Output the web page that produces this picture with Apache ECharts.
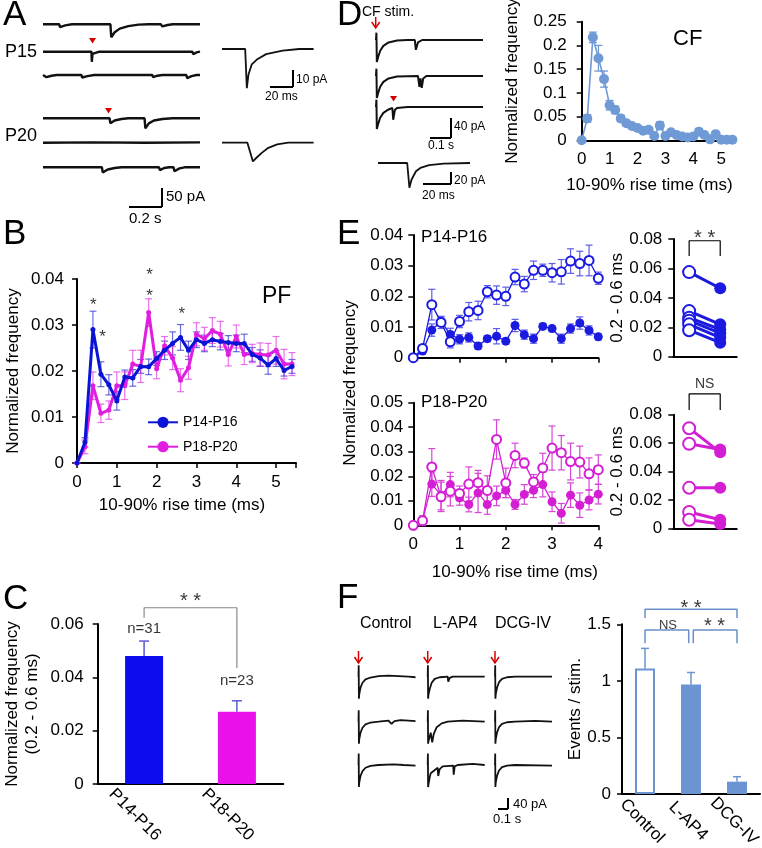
<!DOCTYPE html>
<html><head><meta charset="utf-8">
<script src="https://cdn.jsdelivr.net/npm/echarts@6/dist/echarts.min.js"></script>
<style>html,body{margin:0;padding:0;background:#fff}#c{width:762px;height:848px}</style>
</head><body><div id="c"></div>
<script>
// ================= DATA =================
// Panel B (PF rise-time distributions)
const riseB = [0,0.2,0.4,0.6,0.8,1,1.2,1.4,1.6,1.8,2,2.2,2.4,2.6,2.8,3,3.2,3.4,3.6,3.8,4,4.2,4.4,4.6,4.8,5,5.2,5.4];
const pfP14 = [0,0.0045,0.029,0.0193,0.017,0.0135,0.0187,0.0185,0.021,0.0209,0.0227,0.0245,0.026,0.0273,0.0245,0.0268,0.026,0.0268,0.0264,0.0262,0.026,0.026,0.0236,0.0228,0.0213,0.0227,0.0201,0.021];
const pfP14Err = [0,0.001,0.004,0.0027,0.0022,0.002,0.0015,0.0018,0.0015,0.0017,0.0015,0.002,0.0025,0.0028,0.002,0.0017,0.0018,0.0015,0.0018,0.0015,0.0018,0.002,0.0015,0.0018,0.002,0.0017,0.0012,0.0015];
const pfP18 = [0,0.0035,0.0168,0.0108,0.0115,0.0168,0.0168,0.0215,0.021,0.0327,0.0205,0.0255,0.0228,0.018,0.0207,0.028,0.027,0.0288,0.028,0.0236,0.0275,0.0236,0.0238,0.0236,0.0235,0.0245,0.0215,0.0215];
const pfP18Err = [0,0.0015,0.003,0.002,0.002,0.003,0.003,0.003,0.0035,0.003,0.0022,0.002,0.0025,0.0025,0.0025,0.0025,0.0025,0.0028,0.0028,0.0025,0.0025,0.0022,0.002,0.0025,0.0025,0.003,0.0032,0.0025];
const starsB = [[0.41,0.0352],[0.64,0.0283],[1.82,0.0416],[1.82,0.037],[2.63,0.0333]];

// Panel C
const groupsC = ['P14-P16','P18-P20'];
const freqC = [0.048,0.0271];
const freqCErr = [0.0056,0.0041];
const nLabelsC = ['n=31','n=23'];

// Panel D (CF)
const cfFreq = [0,0.046,0.217,0.173,0.129,0.074,0.064,0.046,0.036,0.03,0.026,0.02,0.022,0.009,0.031,0.009,0.017,0.011,0.008,0.006,0.008,0.018,0.011,0.002,0.013,0.001,0.001,0.001];
const cfErr = [0,0.008,0.011,0.027,0.017,0.01,0.008,0.007,0.006,0.004,0.004,0.004,0.004,0.003,0.008,0.003,0.004,0.003,0.003,0.003,0.003,0.007,0.003,0.002,0.003,0.002,0.002,0.002];

// Panel E
const riseE = [0,0.2,0.4,0.6,0.8,1,1.2,1.4,1.6,1.8,2,2.2,2.4,2.6,2.8,3,3.2,3.4,3.6,3.8,4];
const eP14Open = [0,0.003,0.0173,0.0115,0.0052,0.0118,0.015,0.0154,0.0215,0.0204,0.02,0.0263,0.024,0.0285,0.0285,0.0277,0.028,0.0315,0.0307,0.0317,0.0259];
const eP14OpenErr = [0,0.001,0.005,0.002,0.002,0.002,0.003,0.003,0.002,0.003,0.003,0.0025,0.0025,0.003,0.002,0.003,0.004,0.004,0.004,0.005,0.002];
const eP14Filled = [0,0.0022,0.009,0.0118,0.0076,0.006,0.0066,0.0038,0.0062,0.007,0.0054,0.0105,0.0075,0.0062,0.0102,0.0095,0.0062,0.0095,0.0113,0.0089,0.0068];
const eP14FilledErr = [0,0.001,0.002,0.0015,0.002,0.0015,0.0015,0.001,0.001,0.0025,0.001,0.002,0.0015,0.0015,0.001,0.001,0.0015,0.0015,0.002,0.0015,0.001];
const eP18Open = [0,0.0019,0.0238,0.0116,0.0139,0.013,0.0168,0.0174,0.0142,0.035,0.0173,0.0285,0.0254,0.0177,0.0234,0.0315,0.0296,0.026,0.0258,0.021,0.0227];
const eP18OpenErr = [0,0.001,0.0075,0.006,0.006,0.003,0.007,0.005,0.006,0.008,0.006,0.005,0.002,0.003,0.006,0.009,0.007,0.0075,0.0065,0.0065,0.006];
const eP18Filled = [0,0.0019,0.0168,0.0123,0.0166,0.0112,0.0085,0.0132,0.0085,0.012,0.0143,0.0085,0.0126,0.0143,0.0166,0.0096,0.0049,0.0123,0.0082,0.0103,0.0127];
const eP18FilledErr = [0,0.002,0.005,0.006,0.005,0.003,0.003,0.008,0.004,0.004,0.003,0.002,0.004,0.003,0.005,0.004,0.004,0.005,0.005,0.004,0.004];
const pairP14Open = [0.0575,0.031,0.0265,0.0245,0.022,0.018];
const pairP14Filled = [0.0465,0.022,0.0185,0.016,0.013,0.0095];
const pairP18Open = [0.0705,0.0595,0.0285,0.0115,0.006];
const pairP18Filled = [0.0535,0.0555,0.0285,0.006,0.003];

// Panel F
const drugsF = ['Control','L-AP4','DCG-IV'];
const eventsF = [1.11,0.968,0.109];
const eventsFErr = [0.177,0.106,0.044];

// Example traces: [time, current(pA)]
const traceA15 = [
 [[0,0],[0.095,0],[0.1,-8],[0.13,-3],[0.17,0],[0.395,0],[0.4,-36],[0.42,-22],[0.45,-12],[0.5,-5],[0.56,-1],[0.62,0],[0.69,0],[0.7,-6],[0.73,-2],[0.76,0],[0.92,0]],
 [[0,0],[0.284,0],[0.286,-28],[0.29,-6],[0.3,-2],[0.33,0],[0.875,0],[0.88,-7],[0.9,-2],[0.92,0]],
 [[0,0],[0.02,-6],[0.05,-2],[0.08,0],[0.225,0],[0.23,-7],[0.26,-3],[0.3,0],[0.64,0],[0.645,-6],[0.67,-2],[0.7,0],[0.84,0],[0.845,-9],[0.87,-3],[0.9,0],[0.92,0]]
];
const traceA20 = [
 [[0,0],[0.39,0],[0.395,-14],[0.42,-6],[0.46,-2],[0.5,0],[0.595,0],[0.6,-28],[0.62,-14],[0.65,-6],[0.7,-2],[0.76,0],[0.92,0]],
 [[0,0],[0.3,1],[0.6,0],[0.92,1]],
 [[0,0],[0.345,0],[0.35,-14],[0.38,-6],[0.42,-2],[0.46,0],[0.68,0],[0.685,-8],[0.71,-2],[0.74,0],[0.765,0],[0.77,-11],[0.8,-3],[0.83,0],[0.92,0]]
];
const traceAZoom15 = [[0,0],[21,0],[22.5,-23],[24,-15],[27,-9],[32,-6],[40,-3],[55,-1],[70,0],[83,0]];
const traceAZoom20 = [[0,0],[23,0],[28,-11],[31,-9],[36,-6],[42,-3],[50,-1],[60,0],[83,0]];
const traceD = [
 [[0,0],[0.002,15],[0.004,-45],[0.01,-35],[0.02,-22],[0.035,-12],[0.06,-5],[0.1,-1],[0.15,0],[0.185,0],[0.19,-20],[0.2,-5],[0.22,0],[0.51,0]],
 [[0,0],[0.002,15],[0.004,-45],[0.01,-35],[0.02,-22],[0.035,-12],[0.06,-5],[0.1,-1],[0.2,0],[0.207,-22],[0.212,-5],[0.218,-24],[0.225,-5],[0.24,0],[0.51,0]],
 [[0,0],[0.002,15],[0.004,-45],[0.01,-35],[0.02,-22],[0.035,-12],[0.06,-5],[0.078,-2],[0.082,-26],[0.09,-6],[0.1,-2],[0.15,0],[0.51,0]]
];
const traceDZoom = [[0,0],[20,0],[21.5,-45],[23,-30],[26,-15],[29,-9],[35,-4],[45,-1],[63,0]];
const traceFControl = [
 [[0,0],[0.002,42],[0.004,-80],[0.008,-62],[0.02,-40],[0.04,-22],[0.07,-10],[0.12,-3],[0.2,2],[0.3,4],[0.4,2],[0.5,0],[0.57,-2]],
 [[0,0],[0.002,42],[0.004,-80],[0.008,-62],[0.02,-40],[0.04,-22],[0.07,-10],[0.12,-3],[0.2,0],[0.3,4],[0.33,-8],[0.36,2],[0.42,6],[0.5,4],[0.57,2]],
 [[0,0],[0.002,42],[0.004,-80],[0.008,-62],[0.02,-40],[0.04,-22],[0.07,-10],[0.12,-3],[0.2,0],[0.35,2],[0.45,0],[0.57,-2]]
];
const traceFLAP4 = [
 [[0,0],[0.002,42],[0.004,-80],[0.008,-65],[0.02,-45],[0.04,-22],[0.07,-8],[0.12,-2],[0.2,0],[0.205,-18],[0.22,-4],[0.25,0],[0.57,0]],
 [[0,0],[0.002,42],[0.004,-80],[0.008,-70],[0.02,-55],[0.03,-40],[0.045,-75],[0.06,-45],[0.09,-20],[0.14,-6],[0.2,0],[0.35,4],[0.57,0]],
 [[0,0],[0.002,42],[0.004,-80],[0.008,-70],[0.02,-45],[0.03,-30],[0.1,-10],[0.105,-40],[0.12,-15],[0.15,-5],[0.255,-2],[0.26,-35],[0.27,-5],[0.3,0],[0.45,4],[0.57,0]]
];
const traceFDCG = [
 [[0,0],[0.002,42],[0.004,-80],[0.008,-62],[0.02,-40],[0.04,-20],[0.07,-8],[0.12,-2],[0.2,0],[0.57,0]],
 [[0,0],[0.002,42],[0.004,-80],[0.008,-62],[0.02,-40],[0.04,-20],[0.07,-8],[0.12,-2],[0.2,0],[0.4,3],[0.57,0]],
 [[0,0],[0.002,42],[0.004,-80],[0.008,-62],[0.02,-40],[0.04,-20],[0.07,-8],[0.12,-2],[0.2,0],[0.57,-2]]
];

// ================= CHART =================
const FONT = 'Arial, "Liberation Sans", sans-serif';
const BLUE = '#0a14d6', MAG = '#e01ee0';
const CBLUE = '#0c0cee', CMAG = '#ea10ea';
const EBLUE = '#1a1ae0', EMAG = '#d41ed4';
const CF = '#6f9ad6', FB = '#6c93d2', BR = '#6a8fca';
const grids = [], xAxes = [], yAxes = [], series = [], graphic = [];

function addGrid(g){ g.outerBoundsMode = 'none'; grids.push(g); return grids.length - 1; }
function addX(gi, a){ a.gridIndex = gi; xAxes.push(a); return xAxes.length - 1; }
function addY(gi, a){ a.gridIndex = gi; yAxes.push(a); return yAxes.length - 1; }
const lbl = (margin) => ({fontSize:17, color:'#000', fontFamily:FONT, margin});
function valY(min, max, interval, margin, name, nameGap, extra){
  return Object.assign({type:'value', min, max, interval,
    axisLine:{show:true, onZero:false, lineStyle:{color:'#000', width:2}},
    axisTick:{show:true, length:5, lineStyle:{color:'#000', width:1.5}},
    axisLabel:lbl(margin), splitLine:{show:false},
    name, nameLocation:'middle', nameGap, nameTextStyle:{fontSize:17, color:'#000', fontFamily:FONT}}, extra||{});
}
function valX(min, max, interval, showLabels, name, nameGap, extra){
  return Object.assign({type:'value', min, max, interval,
    axisLine:{show:true, onZero:false, lineStyle:{color:'#000', width:2}},
    axisTick:{show:true, length:5, lineStyle:{color:'#000', width:1.5}},
    axisLabel:Object.assign(lbl(11), {show:showLabels, formatter: v => Number.isInteger(v) ? String(v) : ''}),
    splitLine:{show:false},
    name, nameLocation:'middle', nameGap, nameTextStyle:{fontSize:17, color:'#000', fontFamily:FONT}}, extra||{});
}
function hiddenX(min, max){ return {type:'value', min, max, show:false, axisLine:{onZero:false}}; }

function errSeries(xi, yi, xs, ys, es, color, cap, lw, upOnly){
  return {type:'custom', xAxisIndex:xi, yAxisIndex:yi, silent:true, z:1,
    data: xs.map((x,i) => [x, upOnly ? ys[i] : ys[i]-es[i], ys[i]+es[i]]),
    renderItem: (params, api) => {
      const x = api.value(0);
      const lo = api.coord([x, api.value(1)]), hi = api.coord([x, api.value(2)]);
      const w = cap/2, st = {stroke:color, lineWidth:lw};
      const ch = [
        {type:'line', shape:{x1:lo[0], y1:lo[1], x2:hi[0], y2:hi[1]}, style:st},
        {type:'line', shape:{x1:hi[0]-w, y1:hi[1], x2:hi[0]+w, y2:hi[1]}, style:st}];
      if (!upOnly) ch.push({type:'line', shape:{x1:lo[0]-w, y1:lo[1], x2:lo[0]+w, y2:lo[1]}, style:st});
      return {type:'group', children:ch};
    }};
}
function bracket(xi, yi, pts, color, w){
  return {type:'line', xAxisIndex:xi, yAxisIndex:yi, data:pts, symbol:'none', silent:true, clip:false, z:5,
    lineStyle:{color, width:w}};
}
function labels(xi, yi, pts, texts, size, color, dy){
  return {type:'scatter', xAxisIndex:xi, yAxisIndex:yi, silent:true, clip:false, z:6, symbolSize:1,
    itemStyle:{color:'rgba(0,0,0,0)'},
    data: pts.map((p,i) => ({value:p, label:{formatter:texts[i]}})),
    label:{show:true, position:'inside', fontSize:size, color, fontFamily:FONT, offset:[0,dy]}};
}
function trace(data, left, baseY, width, tMax, k, lw){
  const gi = addGrid({left, top: baseY-40, width, height:100});
  const xi = addX(gi, {type:'value', min:0, max:tMax, show:false});
  const yi = addY(gi, {type:'value', min:-60/k, max:40/k, show:false});
  series.push({type:'line', xAxisIndex:xi, yAxisIndex:yi, data, symbol:'none', silent:true, clip:false,
    lineStyle:{color:'#111', width:lw}});
}

// ---- Panel B ----
{
  const gi = addGrid({left:77, top:279, width:219, height:184});
  const xi = addX(gi, valX(0, 5.5, 1, true, '10-90% rise time (ms)', 34, {nameTextStyle:{fontSize:17,color:'#000',fontFamily:FONT,padding:[0,9,0,0]}}));
  const yi = addY(gi, valY(0, 0.04, 0.01, 13, 'Normalized frequency', 55));
  series.push(errSeries(xi, yi, riseB, pfP14, pfP14Err, 'rgba(30,30,210,0.65)', 7, 1.2));
  series.push(errSeries(xi, yi, riseB, pfP18, pfP18Err, 'rgba(225,40,225,0.65)', 7, 1.2));
  series.push({name:'P18-P20', type:'line', xAxisIndex:xi, yAxisIndex:yi, z:3,
    data: riseB.map((x,i)=>[x, pfP18[i]]), symbol:'circle', symbolSize:5,
    lineStyle:{width:3, color:MAG}, itemStyle:{color:MAG}});
  series.push({name:'P14-P16', type:'line', xAxisIndex:xi, yAxisIndex:yi, z:4,
    data: riseB.map((x,i)=>[x, pfP14[i]]), symbol:'circle', symbolSize:5,
    lineStyle:{width:3, color:BLUE}, itemStyle:{color:BLUE}});
  series.push(labels(xi, yi, starsB, starsB.map(()=>'*'), 17, '#000', 4));
}

// ---- Panel C ----
{
  const gi = addGrid({left:97.7, top:624, width:185.6, height:160});
  const xi = addX(gi, {type:'category', data:groupsC,
    axisLine:{show:true, lineStyle:{color:'#000', width:2}}, axisTick:{show:false},
    axisLabel:{fontSize:17, color:'#000', fontFamily:FONT, rotate:-45, align:'center', verticalAlign:'middle',
      margin:40, padding:[0,26,0,0]}});
  const yi = addY(gi, valY(0, 0.06, 0.02, 14, 'Normalized frequency\n(0.2 - 0.6 ms)', 55,
    {nameTextStyle:{fontSize:17, color:'#000', fontFamily:FONT, lineHeight:20}}));
  const xv = addX(gi, hiddenX(-0.5, 1.5));
  series.push({type:'bar', xAxisIndex:xi, yAxisIndex:yi, barWidth:38,
    data: freqC.map((v,i)=>({value:v, itemStyle:{color: i===0 ? CBLUE : CMAG}}))});
  series.push(errSeries(xi, yi, [0,1], freqC, freqCErr, '#5a5ad8', 10, 1.5, true));
  series.push(bracket(xv, yi, [[0,0.0623],[0,0.0661],[1,0.0661],[1,0.0435]], '#888', 1.2));
  series.push(labels(xv, yi, [[0,0.0582],[1,0.0385]], nLabelsC, 15, '#000', 0));
  series.push(labels(xv, yi, [[0.5,0.0701]], ['* *'], 20, '#000', 4));
}

// ---- Panel D chart ----
{
  const gi = addGrid({left:581.7, top:21.7, width:153.5, height:118.6});
  const xi = addX(gi, valX(0, 5.5, 1, true, '10-90% rise time (ms)', 37,
    {axisTick:{show:false}, nameTextStyle:{fontSize:17,color:'#000',fontFamily:FONT,padding:[0,18,0,0]}}));
  const yi = addY(gi, valY(0, 0.25, 0.05, 15, 'Normalized frequency', 61));
  series.push(errSeries(xi, yi, riseB, cfFreq, cfErr, CF, 8, 1.3));
  series.push({type:'line', xAxisIndex:xi, yAxisIndex:yi, z:3,
    data: riseB.map((x,i)=>[x, cfFreq[i]]), symbol:'circle', symbolSize:10,
    lineStyle:{width:1.6, color:CF}, itemStyle:{color:CF}});
}

// ---- Panel E left ----
function ePlot(top, height, ymax, showX, open, openErr, filled, filledErr, color, errColor){
  const gi = addGrid({left:413.3, top, width:185, height});
  const xi = addX(gi, valX(0, 4, 1, showX, showX ? '10-90% rise time (ms)' : '', 39,
    {nameTextStyle:{fontSize:17,color:'#000',fontFamily:FONT,padding:[0,0,0,18]}}));
  const yi = addY(gi, valY(0, ymax, 0.01, 10, '', 0));
  series.push(errSeries(xi, yi, riseE, open, openErr, errColor, 7, 1.2));
  series.push(errSeries(xi, yi, riseE, filled, filledErr, errColor, 7, 1.2));
  series.push({type:'line', xAxisIndex:xi, yAxisIndex:yi, z:3, data: riseE.map((x,i)=>[x, filled[i]]),
    symbol:'circle', symbolSize:9, lineStyle:{width:1.3, color}, itemStyle:{color}});
  series.push({type:'line', xAxisIndex:xi, yAxisIndex:yi, z:4, data: riseE.map((x,i)=>[x, open[i]]),
    symbol:'emptyCircle', symbolSize:9, lineStyle:{width:1.3, color}, itemStyle:{color, borderWidth:1.5}});
}
ePlot(235, 122.7, 0.04, false, eP14Open, eP14OpenErr, eP14Filled, eP14FilledErr, EBLUE, '#5c5ce6');
ePlot(402.7, 122.6, 0.05, true, eP18Open, eP18OpenErr, eP18Filled, eP18FilledErr, EMAG, '#d845d8');

// ---- Panel E right (paired) ----
function pairPlot(top, height, opens, filleds, color, brPts, brText, brTextPos, brSize, brDy){
  const gi = addGrid({left:673.3, top, width:63.4, height});
  const xi = addX(gi, {type:'value', min:0, max:1, axisLine:{show:true, onZero:false, lineStyle:{color:'#000', width:2}},
    axisTick:{show:false}, axisLabel:{show:false}, splitLine:{show:false}});
  const yi = addY(gi, valY(0, 0.08, 0.02, 11, '0.2 - 0.6 ms', 47));
  opens.forEach((o,i) => {
    series.push({type:'line', xAxisIndex:xi, yAxisIndex:yi, z:3, symbolSize:12,
      lineStyle:{width:3, color}, itemStyle:{color, borderWidth:1.8},
      data:[{value:[0.25, o], symbol:'emptyCircle'}, {value:[0.74, filleds[i]], symbol:'circle'}]});
  });
  series.push(bracket(xi, yi, brPts, '#000', 1.2));
  series.push(labels(xi, yi, [brTextPos], [brText], brSize, '#000', brDy));
}
pairPlot(239, 117.7, pairP14Open, pairP14Filled, EBLUE,
  [[0.25,0.0684],[0.25,0.0788],[0.74,0.0788],[0.74,0.0684]], '* *', [0.495,0.0834], 20, 4);
pairPlot(414.7, 113.6, pairP18Open, pairP18Filled, EMAG,
  [[0.25,0.0833],[0.25,0.0946],[0.74,0.0946],[0.74,0.0833]], 'NS', [0.495,0.1016], 14, 0);

// ---- Panel F bars ----
{
  const gi = addGrid({left:622, top:624.3, width:138, height:169.7});
  const xi = addX(gi, {type:'category', data:drugsF,
    axisLine:{show:true, lineStyle:{color:'#000', width:2}}, axisTick:{show:false},
    axisLabel:{fontSize:17, color:'#000', fontFamily:FONT, rotate:-45, align:'center', verticalAlign:'middle', margin:30, padding:[0,8,0,0]}});
  const yi = addY(gi, valY(0, 1.5, 0.5, 11, 'Events / stim.', 37));
  const xv = addX(gi, hiddenX(-0.5, 2.5));
  series.push({type:'bar', xAxisIndex:xi, yAxisIndex:yi, barWidth:20,
    data: eventsF.map((v,i)=>({value:v, itemStyle: i===0 ? {color:'#fff', borderColor:FB, borderWidth:2} : {color:FB}}))});
  series.push(errSeries(xi, yi, [0,1,2], eventsF, eventsFErr, FB, 8, 1.5, true));
  series.push(bracket(xv, yi, [[0,1.556],[0,1.632],[2,1.632],[2,1.556]], BR, 1.5));
  series.push(bracket(xv, yi, [[0,1.332],[0,1.45],[0.95,1.45],[0.95,1.332]], BR, 1.5));
  series.push(bracket(xv, yi, [[1.05,1.332],[1.05,1.45],[2,1.45],[2,1.332]], BR, 1.5));
  series.push(labels(xv, yi, [[1,1.679],[1.51,1.52]], ['* *','* *'], 20, '#000', 4));
  series.push(labels(xv, yi, [[0.5,1.494]], ['NS'], 13, '#000', 0));
}

// ---- Traces ----
[24.3, 51.7, 75].forEach((b,i) => trace(traceA15[i], 43, b, 157, 0.92, 0.36, 2.4));
[118.3, 142.7, 167.3].forEach((b,i) => trace(traceA20[i], 43, b, 157, 0.92, 0.36, 2.4));
trace(traceAZoom15, 222, 49, 91.6, 83, 1.7, 1.8);
trace(traceAZoom20, 222, 142.7, 91.6, 83, 1.7, 1.8);
[40, 76, 107].forEach((b,i) => trace(traceD[i], 376, b, 107, 0.51, 0.49, 2));
trace(traceDZoom, 378, 163, 92, 63, 0.55, 1.8);
[676.7, 721.7, 765].forEach((b,i) => {
  trace(traceFControl[i], 358.5, b, 57, 0.57, 0.275, 1.8);
  trace(traceFLAP4[i], 427.7, b, 57, 0.57, 0.275, 1.8);
  trace(traceFDCG[i], 495, b, 57, 0.57, 0.275, 1.8);
});

// ---- Graphic annotations ----
function T(text, x, y, size, o){
  o = o || {};
  return {type:'text', x, y, rotation:o.rot||0, silent:true, z:10,
    style:{text, fill:o.color||'#000', fontSize:size, fontFamily:FONT, align:o.align||'left', verticalAlign:o.va||'middle'}};
}
function L(x1,y1,x2,y2,w,c){ return {type:'line', silent:true, z:10, shape:{x1,y1,x2,y2}, style:{stroke:c||'#000', lineWidth:w||2}}; }
function tri(x, y){ return {type:'polygon', silent:true, z:10, shape:{points:[[x-3.5,y],[x+3.5,y],[x,y+5.5]]}, style:{fill:'#d40000'}}; }
function arrow(x, y1, y2){ return {type:'group', silent:true, z:10, children:[
  L(x, y1, x, y2, 1.5, '#d40000'),
  {type:'polyline', shape:{points:[[x-4,y2-6],[x,y2],[x+4,y2-6]]}, style:{stroke:'#d40000', lineWidth:1.5, fill:null}}]}; }

graphic.push(
  T('A',3,15,35), T('B',3,234.5,35), T('C',3,599,35), T('D',337,15,35), T('E',337,234.5,35), T('F',337,598,35),
  T('P15',5,52.5,18), T('P20',5,136.5,18),
  T('PF',262,297,23), T('CF',673,38.5,22), T('CF stim.',362,12,14),
  T('P14-P16',421,237,17), T('P18-P20',421,402,17),
  T('Normalized frequency',350,383,17,{rot:Math.PI/2, align:'center'}),
  T('Control',360,624,16), T('L-AP4',433,624,16), T('DCG-IV',495,624,16),
  // scale bars
  L(162,188,162,207), L(129,207,162,207), T('50 pA',166,197,15), T('0.2 s',129,219,15),
  L(293,70,293,87), L(270,87,293,87), T('10 pA',296,80,12), T('20 ms',265,97,12),
  L(451,118,451,138), L(430,138,451,138), T('40 pA',454,127,12), T('0.1 s',428,146,12),
  L(451,172,451,184), L(423,184,451,184), T('20 pA',454,181,12), T('20 ms',422,196,12),
  L(508,798,508,809), L(498,809,508,809), T('40 pA',513,804,13), T('0.1 s',493,819,13),
  // markers
  tri(92.5,38), tri(108.5,108), tri(393.5,96),
  arrow(375.7,17,28), arrow(358.5,651,663), arrow(427.7,651,663), arrow(495,651,663)
);

const chart = echarts.init(document.getElementById('c'), null, {renderer:'canvas'});
chart.setOption({
  animation:false,
  textStyle:{fontFamily:FONT},
  grid:grids, xAxis:xAxes, yAxis:yAxes, series, graphic,
  legend:{data:['P14-P16','P18-P20'], orient:'vertical', left:147, top:415.3, padding:0, itemWidth:30, itemHeight:14, itemGap:10.4,
    textStyle:{fontSize:14, color:'#000', fontFamily:FONT}, selectedMode:false}
});
</script></body></html>
